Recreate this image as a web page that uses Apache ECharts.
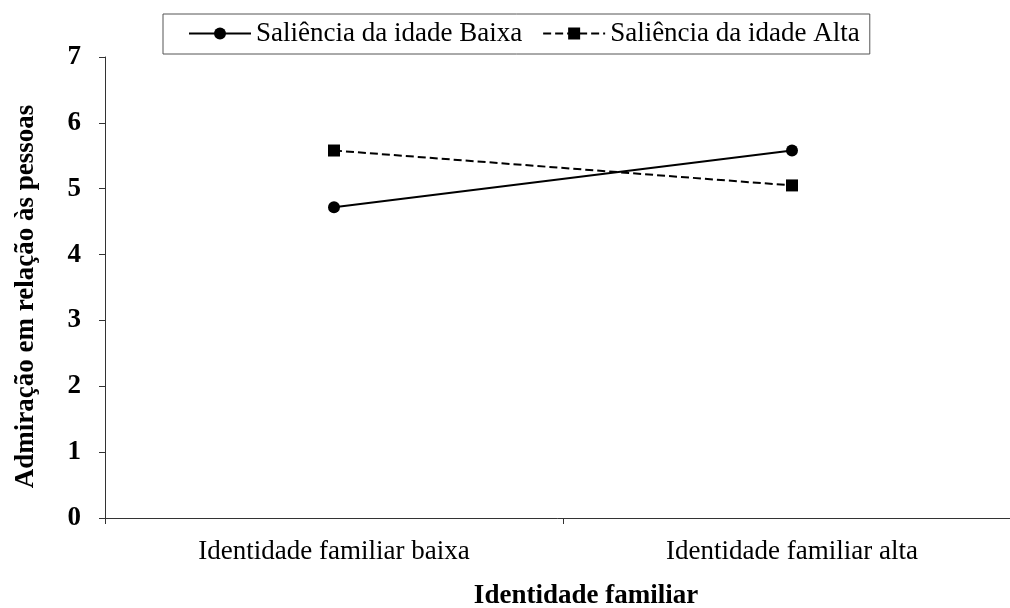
<!DOCTYPE html>
<html><head><meta charset="utf-8">
<script src="https://cdn.jsdelivr.net/npm/echarts@6/dist/echarts.min.js"></script>
<style>html,body{margin:0;padding:0;background:#fff}#c{width:1010px;height:608px}</style>
</head><body><div id="c"></div>
<script>
const categories = ['Identidade familiar baixa', 'Identidade familiar alta'];
const seriesNames = ['Saliência da idade Baixa', 'Saliência da idade Alta'];
const baixaValues = [4.72, 5.58];
const altaValues = [5.58, 5.05];
const yTicks = [0, 1, 2, 3, 4, 5, 6, 7];

const font = 'Liberation Serif';
const chart = echarts.init(document.getElementById('c'));
chart.setOption({
  animation: false,
  backgroundColor: '#fff',
  legend: {
    top: 14, left: 163,
    itemWidth: 62, itemHeight: 15, itemGap: 20,
    padding: [6, 10, 7, 25],
    borderColor: '#555', borderWidth: 1,
    textStyle: { fontFamily: font, fontSize: 27, color: '#000' },
    data: seriesNames
  },
  grid: { left: 105, width: 916, top: 57, bottom: 90, outerBoundsMode: 'none', containLabel: false },
  xAxis: {
    type: 'category', data: categories, boundaryGap: true,
    axisLine: { lineStyle: { color: '#333', width: 1 } },
    axisTick: { show: true, length: 6, lineStyle: { color: '#333' } },
    axisLabel: { fontFamily: font, fontSize: 27, color: '#000', margin: 20 },
    name: 'Identidade familiar', nameLocation: 'middle', nameGap: 65,
    nameTextStyle: { fontFamily: font, fontSize: 27, fontWeight: 'bold', color: '#000', padding: [0, 0, 0, 46] }
  },
  yAxis: {
    type: 'value', min: 0, max: 7, interval: 1,
    axisLine: { show: true, lineStyle: { color: '#333', width: 1 } },
    axisTick: { show: true, length: 6, lineStyle: { color: '#333' } },
    splitLine: { show: false },
    axisLabel: { fontFamily: font, fontSize: 27, fontWeight: 'bold', color: '#000', margin: 24,
      formatter: v => yTicks.includes(v) ? String(v) : '' },
    name: 'Admiração em relação às pessoas', nameLocation: 'middle', nameGap: 65, nameRotate: 90,
    nameTextStyle: { fontFamily: font, fontSize: 27, fontWeight: 'bold', color: '#000', padding: [0, 18, 0, 0] }
  },
  series: [
    { name: seriesNames[0], type: 'line', data: baixaValues, symbol: 'circle', symbolSize: 12,
      lineStyle: { color: '#000', width: 2, type: 'solid' }, itemStyle: { color: '#000' } },
    { name: seriesNames[1], type: 'line', data: altaValues, symbol: 'rect', symbolSize: 12,
      lineStyle: { color: '#000', width: 2, type: [8, 4] }, itemStyle: { color: '#000' } }
  ]
});
</script></body></html>
